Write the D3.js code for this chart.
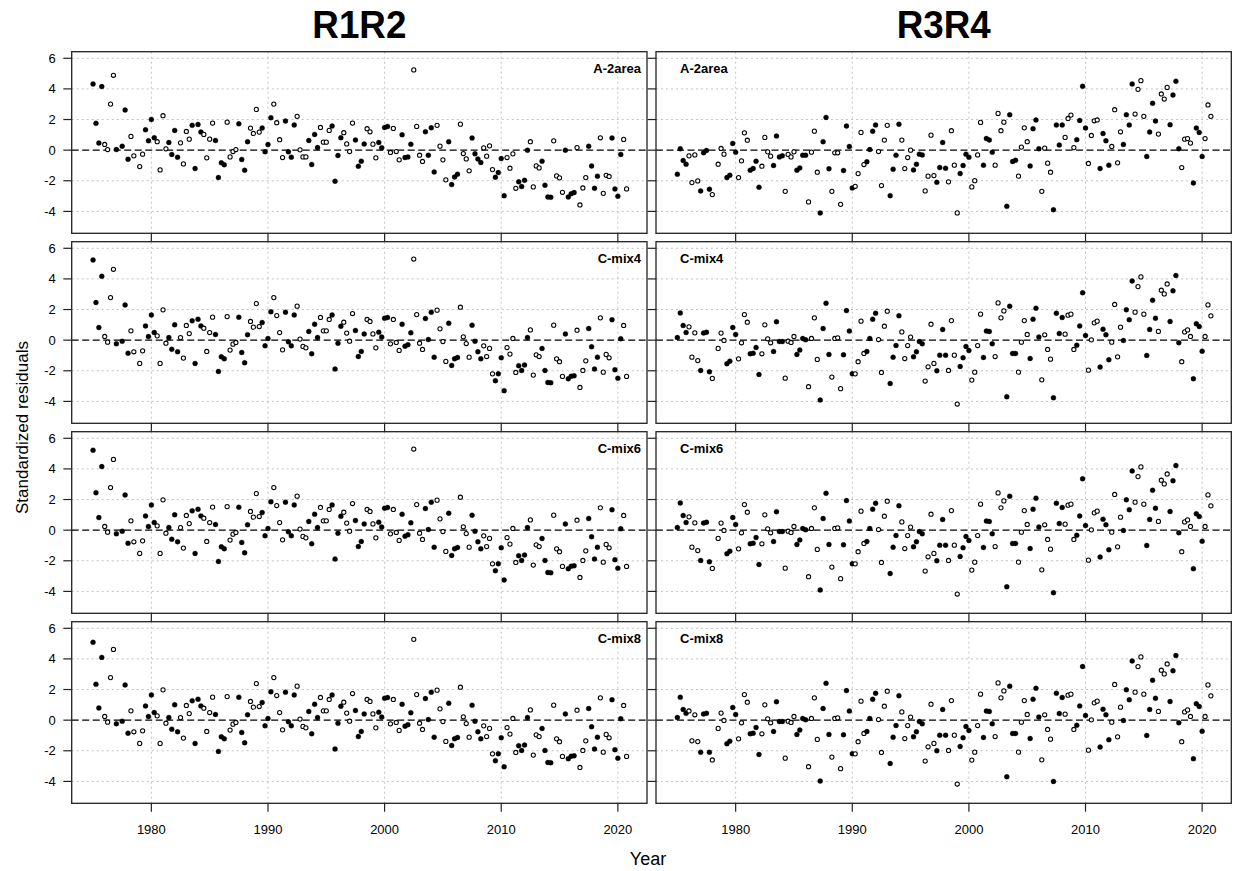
<!DOCTYPE html>
<html>
<head>
<meta charset="utf-8">
<script src="https://cdn.jsdelivr.net/npm/d3@7"></script>
<style>
  body { margin: 0; background: #fff; }
  text { font-family: "Liberation Sans", Arial, Helvetica, sans-serif; }
</style>
</head>
<body>
<svg id="chart" width="1236" height="871"></svg>
<script>
// ---- data -------------------------------------------------------------
// Quarterly standardized residuals, first step 1975.0, 184 steps per series.
const firstYear = 1975;
const stepsPerYear = 4;
const columnTitles = ["R1R2", "R3R4"];
const rowLabels = ["A-2area", "C-mix4", "C-mix6", "C-mix8"];
const xTicks = [1980, 1990, 2000, 2010, 2020];
const yTicks = [6, 4, 2, 0, -2, -4];

// 1 = filled symbol, 0 = open symbol, one character per time step
const fillR1R2 =
  "111100001111100000" +
  "11110000111100001111000011110000111100001111000011110000111100001111000011110000" +
  "11110000111100001111000011110000111100001111000011110000111100001111000011110000" +
  "111100";
const fillR3R4 =
  "11110000111100000" +
  "11110000111100001111000011110000111100001111000011110000111100001111000011110000" +
  "11110000111100001111000011110000111100001111000011110000111100001111000011110000" +
  "1111000";

const r1r2_A2area = [
  4.32,1.75,0.46,4.15,0.37,0.04,3.01,4.89,0.04,null,0.26,2.62,-0.59,0.90,-0.37,null,-1.07,-0.26,1.33,0.61,2.01,0.81,0.55,-1.29,2.25,0.09,0.50,
  -0.28,1.29,-0.46,0.48,-0.90,1.22,0.72,1.62,-1.20,1.68,
  1.18,1.03,-0.50,0.72,1.77,0.63,-1.79,-0.83,-0.96,1.83,
  -0.44,-0.09,0.04,1.72,-0.61,-1.31,0.55,1.44,1.09,2.66,
  1.18,1.44,-0.11,0.37,2.12,3.01,1.79,0.68,-0.48,1.90,
  -0.11,-0.46,1.64,2.21,0.02,-0.44,-0.44,0.63,-0.94,1.03,
  0.17,1.48,0.52,0.52,1.29,1.57,-2.03,-0.35,0.81,1.14,
  0.41,-0.09,1.77,0.66,
  -1.05,-0.72,0.41,1.40,1.20,0.39,-0.50,0.50,0.15,1.48,
  1.55,-0.15,1.42,-0.09,-0.63,1.00,-0.48,-0.44,0.39,5.24,
  1.55,-0.33,-0.74,1.20,-0.33,1.46,-1.42,1.62,0.26,-0.63,
  -1.94,0.55,-2.25,-1.75,-1.57,1.70,-0.22,-0.57,-1.35,0.79,
  -0.24,-0.57,-0.81,0.15,-0.39,0.28,-1.27,-1.77,-1.46,-0.55,
  -2.97,-0.48,-1.18,-0.24,-2.49,-2.07,-2.38,-1.97,0.00,0.55,
  -2.40,-1.03,-1.16,-0.72,-2.29,-3.06,-3.08,0.61,-1.68,-1.81,
  -2.75,0.00,-3.06,-2.84,-2.77,0.17,-3.58,-2.47,-1.79,0.26,
  -1.03,-2.49,-1.70,0.81,-2.82,-1.64,-1.72,0.79,-2.53,-3.01,
  -0.28,0.70,-2.53
];

const r3r4_A2area = [
  -1.57,0.09,-0.68,-0.92,-0.37,-2.12,-0.31,-2.01,-2.66,-0.17,-0.02,-2.55,-2.90,null,-0.92,0.11,-0.26,-1.79,-1.64,0.44,-0.13,-1.79,-0.70,1.13,0.65,-1.31,
  -1.20,-0.72,-2.42,-1.05,0.83,-0.11,-0.39,-1.00,0.92,-0.44,
  -0.37,-2.69,-0.28,-0.44,-0.11,-1.31,-1.16,-0.33,-0.33,-3.38,
  -0.13,1.24,-1.44,-4.10,0.55,2.14,-1.22,-2.69,-0.17,-0.17,
  -3.54,-1.33,1.57,0.24,-2.47,-2.36,-1.53,1.16,-0.94,-0.76,
  0.04,1.24,1.64,-0.09,-2.31,0.66,1.62,-2.97,-1.24,-0.33,
  1.70,0.66,-1.20,-0.48,0.00,-1.29,-0.92,-0.26,-0.31,-2.66,
  -1.70,0.98,-1.66,-2.10,-1.14,
  0.50,-1.18,-2.07,1.27,-0.98,-4.10,-1.53,-1.00,-0.26,-0.46,
  -2.40,-1.99,-0.31,1.81,-0.98,0.76,0.66,-0.13,-0.98,2.40,
  1.27,1.83,-3.67,2.31,-0.74,-0.66,-1.70,0.20,1.46,0.55,
  -1.03,1.40,1.97,0.09,-2.69,0.13,-0.85,-1.44,-3.89,1.64,
  0.33,1.64,0.83,2.07,2.29,0.17,0.68,1.94,4.17,1.44,
  -0.87,0.96,1.92,1.97,-1.20,1.09,0.61,-0.98,0.24,2.64,
  -0.83,1.20,0.37,2.31,1.64,4.32,2.36,3.97,4.54,2.21,
  -0.41,1.18,3.06,1.90,1.05,3.67,3.34,4.10,1.66,3.60,
  4.50,0.09,-1.14,0.72,0.76,0.46,-2.14,1.44,1.16,-0.41,
  0.76,2.95,2.21
];

const r1r2_Cmix4 = [
  5.24,2.46,0.83,4.17,0.24,-0.13,2.78,4.63,-0.24,null,-0.07,2.30,-0.85,0.61,-0.76,null,-1.52,-0.70,0.93,0.24,1.65,0.50,0.28,-1.52,1.98,-0.20,0.17,
  -0.59,1.00,-0.76,0.17,-1.17,0.96,0.43,1.26,-1.52,1.37,
  0.93,0.78,-0.74,0.50,1.50,0.37,-2.04,-1.09,-1.22,1.54,
  -0.65,-0.26,-0.15,1.50,-0.80,-1.48,0.35,1.22,0.85,2.39,
  0.89,1.15,-0.37,0.11,1.85,2.78,1.61,0.50,-0.63,1.83,
  -0.11,-0.37,1.65,2.22,0.07,-0.41,-0.50,0.57,-0.89,1.04,
  0.17,1.48,0.61,0.61,1.35,1.65,-1.89,-0.20,0.91,1.17,
  0.46,-0.07,1.74,0.63,
  -1.07,-0.74,0.41,1.35,1.22,0.41,-0.50,0.52,0.20,1.43,
  1.48,-0.24,1.35,-0.15,-0.67,1.04,-0.39,-0.30,0.48,5.30,
  1.67,-0.20,-0.61,1.41,0.04,1.83,-1.11,1.96,0.74,-0.09,
  -1.39,1.11,-1.65,-1.22,-1.13,2.15,0.22,-0.22,-1.11,0.98,
  -0.07,-0.76,-1.22,-0.37,-1.07,-0.54,-2.20,-2.65,-2.20,-1.15,
  -3.30,-0.48,-0.91,0.11,-2.11,-1.67,-1.98,-1.63,0.17,0.67,
  -2.28,-0.96,-1.07,-0.54,-1.98,-2.76,-2.78,0.98,-1.22,-1.41,
  -2.37,0.41,-2.52,-2.35,-2.33,0.65,-3.09,-1.98,-1.35,0.76,
  -0.43,-1.89,-1.11,1.46,-2.09,-0.93,-1.15,1.33,-1.93,-2.48,
  0.09,0.96,-2.37
];

const r3r4_Cmix4 = [
  0.17,1.78,0.96,0.50,0.87,-1.11,0.48,-1.33,-1.98,0.46,0.52,-2.07,-2.50,null,-0.54,0.46,-0.02,-1.54,-1.37,0.83,0.37,-1.22,-0.17,1.67,1.17,-0.89,
  -0.85,-0.48,-2.24,-0.89,1.00,0.09,-0.17,-0.74,1.20,-0.09,
  -0.09,-2.48,-0.07,-0.15,0.24,-0.93,-0.65,0.11,0.02,-3.04,
  0.11,1.46,-1.26,-3.91,0.76,2.41,-0.93,-2.41,0.11,0.15,
  -3.17,-0.96,1.93,0.59,-2.20,-2.20,-1.41,1.24,-0.87,-0.74,
  0.11,1.37,1.76,0.04,-2.11,0.91,1.89,-2.83,-1.11,-0.35,
  1.59,0.54,-1.20,-0.35,0.20,-1.09,-0.76,-0.09,-0.24,-2.67,
  -1.74,1.04,-1.52,-2.00,-0.98,
  0.70,-0.98,-1.98,1.28,-0.98,-4.17,-1.72,-1.15,-0.41,-0.67,
  -2.61,-2.09,-0.35,1.70,-1.13,0.59,0.57,-0.24,-1.07,2.43,
  1.46,1.91,-3.70,2.22,-0.87,-0.87,-2.09,-0.13,1.28,0.37,
  -1.20,1.37,2.09,0.20,-2.59,0.35,-0.61,-1.24,-3.76,1.76,
  0.43,1.48,0.39,1.63,1.70,-0.61,-0.33,0.93,3.09,0.30,
  -1.96,0.02,1.13,1.24,-1.76,0.72,0.35,-1.28,-0.13,2.33,
  -1.09,0.85,-0.02,1.98,1.33,3.87,1.83,3.50,4.13,1.70,
  -1.00,0.70,2.61,1.43,0.57,3.26,3.02,3.67,1.22,3.22,
  4.22,-0.17,-1.41,0.54,0.67,0.24,-2.52,1.07,0.89,-0.72,
  0.24,2.30,1.59
];

const r1r2_Cmix6 = [
  5.22,2.44,0.82,4.15,0.24,-0.13,2.78,4.62,-0.24,null,-0.07,2.30,-0.85,0.61,-0.76,null,-1.52,-0.70,0.93,0.24,1.65,0.50,0.28,-1.52,1.98,-0.20,0.17,
  -0.59,1.00,-0.76,0.17,-1.17,0.96,0.43,1.26,-1.52,1.37,
  0.93,0.78,-0.74,0.50,1.50,0.37,-2.04,-1.09,-1.22,1.54,
  -0.65,-0.26,-0.15,1.50,-0.80,-1.48,0.35,1.22,0.85,2.39,
  0.89,1.15,-0.37,0.11,1.85,2.78,1.61,0.50,-0.63,1.83,
  -0.11,-0.37,1.65,2.22,0.07,-0.41,-0.50,0.57,-0.89,1.04,
  0.17,1.48,0.61,0.61,1.35,1.65,-1.89,-0.20,0.91,1.17,
  0.46,-0.07,1.74,0.63,
  -1.07,-0.74,0.41,1.35,1.22,0.41,-0.50,0.52,0.20,1.43,
  1.48,-0.24,1.35,-0.15,-0.67,1.04,-0.39,-0.30,0.48,5.30,
  1.67,-0.20,-0.61,1.41,0.04,1.83,-1.11,1.96,0.74,-0.09,
  -1.39,1.11,-1.65,-1.22,-1.13,2.15,0.22,-0.22,-1.11,0.98,
  -0.07,-0.76,-1.22,-0.37,-1.07,-0.54,-2.20,-2.65,-2.20,-1.15,
  -3.25,-0.48,-0.91,0.11,-2.11,-1.67,-1.98,-1.63,0.17,0.67,
  -2.28,-0.96,-1.07,-0.54,-1.98,-2.76,-2.78,0.98,-1.22,-1.41,
  -2.37,0.41,-2.52,-2.35,-2.33,0.65,-3.09,-1.98,-1.35,0.76,
  -0.43,-1.89,-1.11,1.46,-2.09,-0.93,-1.15,1.33,-1.93,-2.48,
  0.09,0.96,-2.37
];

const r3r4_Cmix6 = [
  0.17,1.78,0.96,0.50,0.87,-1.11,0.48,-1.33,-1.98,0.46,0.52,-2.07,-2.50,null,-0.54,0.46,-0.02,-1.54,-1.37,0.83,0.37,-1.22,-0.17,1.67,1.17,-0.89,
  -0.85,-0.48,-2.24,-0.89,1.00,0.09,-0.17,-0.74,1.20,-0.09,
  -0.09,-2.48,-0.07,-0.15,0.24,-0.93,-0.65,0.11,0.02,-3.04,
  0.11,1.46,-1.26,-3.91,0.76,2.41,-0.93,-2.41,0.11,0.15,
  -3.17,-0.96,1.93,0.59,-2.20,-2.20,-1.41,1.24,-0.87,-0.74,
  0.11,1.37,1.76,0.04,-2.11,0.91,1.89,-2.83,-1.11,-0.35,
  1.59,0.54,-1.20,-0.35,0.20,-1.09,-0.76,-0.09,-0.24,-2.67,
  -1.74,1.04,-1.52,-2.00,-0.98,
  0.70,-0.98,-1.98,1.28,-0.98,-4.17,-1.72,-1.15,-0.41,-0.67,
  -2.61,-2.09,-0.35,1.70,-1.13,0.59,0.57,-0.24,-1.07,2.43,
  1.46,1.91,-3.70,2.22,-0.87,-0.87,-2.09,-0.13,1.28,0.37,
  -1.20,1.37,2.09,0.20,-2.59,0.35,-0.61,-1.24,-4.08,1.76,
  0.43,1.48,0.39,1.63,1.70,-0.61,-0.33,0.93,3.35,0.30,
  -1.96,0.02,1.13,1.24,-1.76,0.72,0.35,-1.28,-0.13,2.33,
  -1.09,0.85,-0.02,1.98,1.33,3.87,1.83,3.50,4.13,1.70,
  -1.00,0.70,2.61,1.43,0.57,3.26,3.02,3.67,1.22,3.22,
  4.22,-0.17,-1.41,0.54,0.67,0.24,-2.52,1.07,0.89,-0.72,
  0.24,2.30,1.59
];

const r1r2_Cmix8 = [
  5.08,2.34,0.80,4.10,0.24,-0.13,2.78,4.62,-0.24,null,-0.07,2.30,-0.85,0.61,-0.76,null,-1.52,-0.70,0.93,0.24,1.65,0.50,0.28,-1.52,1.98,-0.20,0.17,
  -0.59,1.00,-0.76,0.17,-1.17,0.96,0.43,1.26,-1.52,1.37,
  0.93,0.78,-0.74,0.50,1.50,0.37,-2.04,-1.09,-1.22,1.54,
  -0.65,-0.26,-0.15,1.50,-0.80,-1.48,0.35,1.22,0.85,2.39,
  0.89,1.15,-0.37,0.11,1.85,2.78,1.61,0.50,-0.63,1.83,
  -0.11,-0.37,1.65,2.22,0.07,-0.41,-0.50,0.57,-0.89,1.04,
  0.17,1.48,0.61,0.61,1.35,1.65,-1.89,-0.20,0.91,1.17,
  0.46,-0.07,1.74,0.63,
  -1.07,-0.74,0.41,1.35,1.22,0.41,-0.50,0.52,0.20,1.43,
  1.48,-0.24,1.35,-0.15,-0.67,1.04,-0.39,-0.30,0.48,5.28,
  1.67,-0.20,-0.61,1.41,0.04,1.83,-1.11,1.96,0.74,-0.09,
  -1.39,1.11,-1.65,-1.22,-1.13,2.15,0.22,-0.22,-1.11,0.98,
  -0.07,-0.76,-1.22,-0.37,-1.07,-0.54,-2.20,-2.65,-2.20,-1.15,
  -3.05,-0.48,-0.91,0.11,-2.11,-1.67,-1.98,-1.63,0.17,0.67,
  -2.28,-0.96,-1.07,-0.54,-1.98,-2.76,-2.78,0.98,-1.22,-1.41,
  -2.37,0.41,-2.52,-2.35,-2.33,0.65,-3.09,-1.98,-1.35,0.76,
  -0.43,-1.89,-1.11,1.46,-2.09,-0.93,-1.15,1.33,-1.93,-2.48,
  0.09,0.96,-2.37
];

const r3r4_Cmix8 = [
  0.17,1.50,0.70,0.45,0.60,-1.35,0.35,-1.40,-2.10,0.40,0.45,-2.10,-2.60,null,-0.54,0.46,-0.02,-1.54,-1.37,0.83,0.37,-1.22,-0.17,1.67,1.17,-0.89,
  -0.85,-0.48,-2.24,-0.89,1.00,0.09,-0.17,-0.74,1.20,-0.09,
  -0.09,-2.48,-0.07,-0.15,0.24,-0.93,-0.65,0.11,0.02,-3.04,
  0.11,1.46,-1.26,-3.98,0.76,2.41,-0.93,-2.41,0.11,0.15,
  -3.17,-0.96,1.93,0.59,-2.20,-2.20,-1.41,1.24,-0.87,-0.74,
  0.11,1.37,1.76,0.04,-2.11,0.91,1.89,-2.83,-1.11,-0.35,
  1.59,0.54,-1.20,-0.35,0.20,-1.09,-0.76,-0.09,-0.24,-2.67,
  -1.74,1.04,-1.52,-2.00,-0.98,
  0.70,-0.98,-1.98,1.28,-0.98,-4.17,-1.72,-1.15,-0.41,-0.67,
  -2.61,-2.09,-0.35,1.70,-1.13,0.59,0.57,-0.24,-1.07,2.43,
  1.46,1.91,-3.70,2.22,-0.87,-0.87,-2.09,-0.13,1.28,0.37,
  -1.20,1.37,2.09,0.20,-2.59,0.35,-0.61,-1.24,-4.00,1.76,
  0.43,1.48,0.39,1.63,1.70,-0.61,-0.33,0.93,3.50,0.30,
  -1.96,0.02,1.13,1.24,-1.76,0.72,0.35,-1.28,-0.13,2.33,
  -1.09,0.85,-0.02,1.98,1.33,3.87,1.83,3.50,4.13,1.70,
  -1.00,0.70,2.61,1.43,0.57,3.26,3.02,3.67,1.22,3.22,
  4.22,-0.17,-1.41,0.54,0.67,0.24,-2.52,1.07,0.89,-0.72,
  0.24,2.30,1.59
];

// ---- layout ------------------------------------------------------------
const panels = [
  [r1r2_A2area, r3r4_A2area],
  [r1r2_Cmix4,  r3r4_Cmix4],
  [r1r2_Cmix6,  r3r4_Cmix6],
  [r1r2_Cmix8,  r3r4_Cmix8]
];
const fills = [fillR1R2, fillR3R4];

const colRange = [[71.7, 647], [656, 1231.3]];
const rowTop0 = 51.7, rowStep = 190, panelH = 181.6;
const tickLen = 8.4;
const xDomain = [1973.17, 2022.5];
const yDomain = [-5.43, 6.43];

const svg = d3.select("#chart");

// column titles
columnTitles.forEach((t, c) => {
  const cx = (colRange[c][0] + colRange[c][1]) / 2;
  svg.append("text")
    .attr("x", cx).attr("y", 38)
    .attr("text-anchor", "middle")
    .attr("font-size", 38).attr("font-weight", "bold")
    .attr("textLength", 94).attr("lengthAdjust", "spacingAndGlyphs")
    .text(t);
});

panels.forEach((row, r) => {
  const top = rowTop0 + r * rowStep;
  const bottom = top + panelH;
  const y = d3.scaleLinear().domain(yDomain).range([bottom, top]);

  row.forEach((values, c) => {
    const x = d3.scaleLinear().domain(xDomain).range(colRange[c]);
    const left = colRange[c][0], right = colRange[c][1];
    const g = svg.append("g");

    // dotted grid
    g.selectAll(".vg").data(xTicks).enter().append("line")
      .attr("x1", d => x(d)).attr("x2", d => x(d))
      .attr("y1", top).attr("y2", bottom)
      .attr("stroke", "#c2c2c2").attr("stroke-width", 1).attr("stroke-dasharray", "2,3");
    g.selectAll(".hg").data(yTicks.filter(v => v !== 0)).enter().append("line")
      .attr("x1", left).attr("x2", right)
      .attr("y1", d => y(d)).attr("y2", d => y(d))
      .attr("stroke", "#c2c2c2").attr("stroke-width", 1).attr("stroke-dasharray", "2,3");

    // zero reference line
    g.append("line")
      .attr("x1", left).attr("x2", right)
      .attr("y1", y(0)).attr("y2", y(0))
      .attr("stroke", "#000").attr("stroke-width", 1.2).attr("stroke-dasharray", "7,3.5");

    // residual points
    const pts = values.map((v, k) => ({
      t: firstYear + k / stepsPerYear,
      v: v,
      filled: fills[c][k] === "1"
    })).filter(d => d.v !== null);

    g.selectAll(".pt").data(pts).enter().append("circle")
      .attr("cx", d => x(d.t)).attr("cy", d => y(d.v))
      .attr("r", d => d.filled ? 2.5 : 2.1)
      .attr("fill", d => d.filled ? "#000" : "#fff")
      .attr("stroke", "#000")
      .attr("stroke-width", d => d.filled ? 0.3 : 1.05);

    // frame
    g.append("rect")
      .attr("x", left).attr("y", top)
      .attr("width", right - left).attr("height", panelH)
      .attr("fill", "none").attr("stroke", "#222").attr("stroke-width", 1.3);

    // x ticks below each panel
    g.selectAll(".xt").data(xTicks).enter().append("line")
      .attr("x1", d => x(d)).attr("x2", d => x(d))
      .attr("y1", bottom).attr("y2", bottom + tickLen)
      .attr("stroke", "#222").attr("stroke-width", 1.2);

    // y ticks left of each panel
    g.selectAll(".yt").data(yTicks).enter().append("line")
      .attr("x1", left - tickLen).attr("x2", left)
      .attr("y1", d => y(d)).attr("y2", d => y(d))
      .attr("stroke", "#222").attr("stroke-width", 1.2);

    if (c === 0) {
      g.selectAll(".yl").data(yTicks).enter().append("text")
        .attr("x", left - 16).attr("y", d => y(d) + 4.5)
        .attr("text-anchor", "end")
        .attr("font-size", 13)
        .text(d => d);
    }

    if (r === panels.length - 1) {
      g.selectAll(".xl").data(xTicks).enter().append("text")
        .attr("x", d => x(d)).attr("y", bottom + 31)
        .attr("text-anchor", "middle")
        .attr("font-size", 13)
        .text(d => d);
    }

    // panel label
    g.append("text")
      .attr("x", c === 0 ? right - 6 : left + 24)
      .attr("y", top + 21.5)
      .attr("text-anchor", c === 0 ? "end" : "start")
      .attr("font-size", 13).attr("font-weight", "bold")
      .text(rowLabels[r]);
  });
});

// axis titles
svg.append("text")
  .attr("x", 648).attr("y", 865)
  .attr("text-anchor", "middle")
  .attr("font-size", 18)
  .text("Year");

svg.append("text")
  .attr("transform", "translate(28," + (rowTop0 + (3 * rowStep + panelH) / 2) + ") rotate(-90)")
  .attr("text-anchor", "middle")
  .attr("font-size", 17)
  .text("Standardized residuals");
</script>
</body>
</html>
